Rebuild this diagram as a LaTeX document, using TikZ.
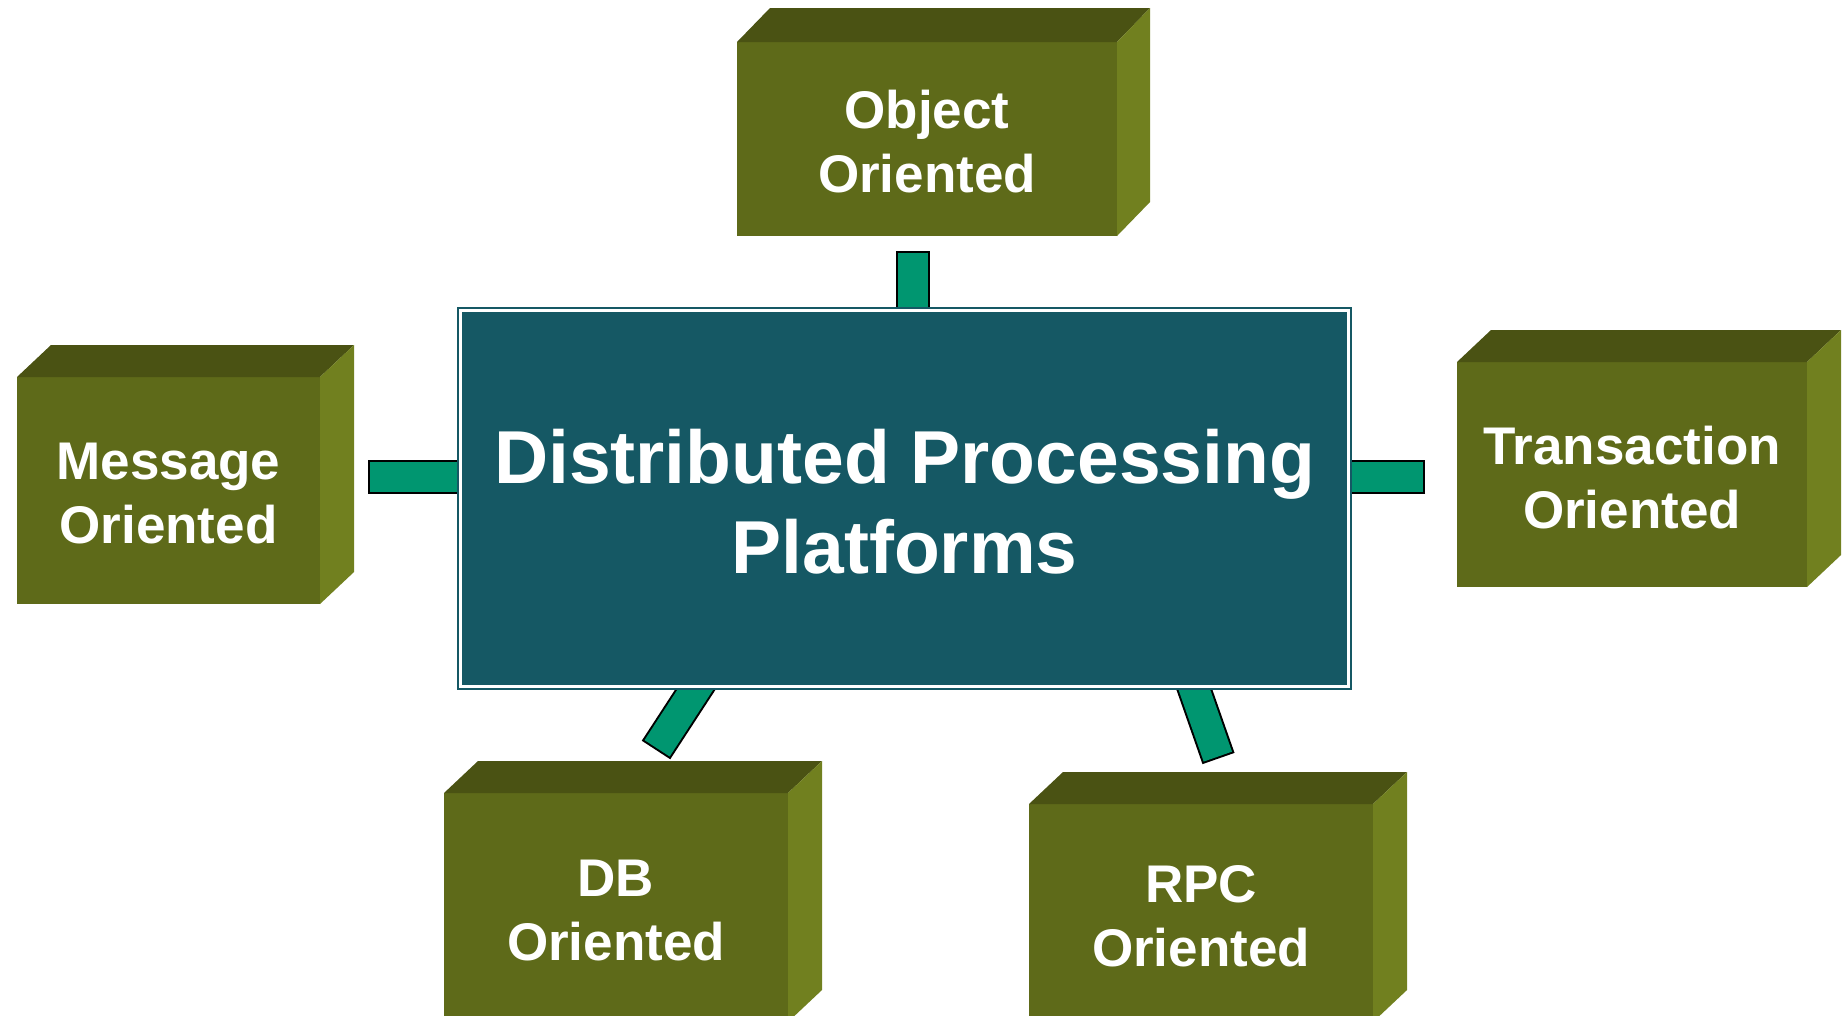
\documentclass[tikz,border=0pt]{standalone}
\usepackage{fontspec}
\setmainfont{Liberation Sans}
\usetikzlibrary{calc,backgrounds}

\definecolor{olivefront}{HTML}{5E6A19}
\definecolor{olivetop}{HTML}{4A5213}
\definecolor{oliveside}{HTML}{71801F}
\definecolor{coreteal}{HTML}{155864}
\definecolor{linkgreen}{HTML}{009670}

% top and side faces of a block whose front face is node #1, depth (#2,#3)
\newcommand\blockfaces[3]{%
  \fill[topface] (#1.north west) -- ++(#2,-#3) -- ($(#1.north east)+(#2,-#3)$) -- (#1.north east) -- cycle;
  \fill[sideface] (#1.north east) -- ++(#2,-#3) -- ($(#1.south east)+(#2,-#3)$) -- (#1.south east) -- cycle;}

% a green bar from a free end #1 into the central box at #2
\newcommand\corelink[2]{%
  \draw[linkedge] (#1) -- (#2);
  \draw[linkfill] (#1) -- (#2);}

\begin{document}
\begin{tikzpicture}[x=1pt,y=-1pt,
  face/.style={fill=olivefront, inner sep=0pt, outer sep=0pt},
  facetext/.style={inner sep=0pt, text=white, align=center,
    font=\bfseries\fontsize{53}{64}\selectfont},
  topface/.style={fill=olivetop},
  sideface/.style={fill=oliveside},
  core/.style={fill=coreteal, inner sep=0pt, outer sep=0pt,
    minimum width=895, minimum height=383},
  coretext/.style={inner sep=0pt, text=white, align=center,
    font=\bfseries\fontsize{75}{90}\selectfont},
  linkedge/.style={draw=black, line width=34pt, shorten >=-20pt},
  linkfill/.style={draw=linkgreen, line width=30pt, shorten <=2pt, shorten >=-20pt},
]
\useasboundingbox (0,0) rectangle (1843,1015);
\clip (0,0) rectangle (1843,1015);

% central box with its thin double frame
\node[core] (core) at (904.5,498.5) {};
\draw[white, line width=2.5pt] ($(core.north west)+(3.5,3.5)$) rectangle ($(core.south east)+(-3.5,-3.5)$);
\node[coretext] (coretitle) at ($(core.center)+(0,3.5)$) {Distributed Processing\\Platforms};

% surrounding blocks
\node[face, minimum width=380, minimum height=194] (obj) at (927,139) {};
\blockfaces{obj}{33}{34}
\node[facetext] (objtext) at ($(obj.center)+(0,3)$) {Object\\Oriented};

\node[face, minimum width=303, minimum height=227] (msg) at (168.5,490.5) {};
\blockfaces{msg}{34}{32}
\node[facetext] (msgtext) at ($(msg.center)+(0,3.5)$) {Message\\Oriented};

\node[face, minimum width=350, minimum height=225] (txn) at (1632,474.5) {};
\blockfaces{txn}{34}{32}
\node[facetext] (txntext) at ($(txn.center)+(0,3.5)$) {Transaction\\Oriented};

\node[face, minimum width=344, minimum height=229] (db) at (616,907.5) {};
\blockfaces{db}{34}{32}
\node[facetext] (dbtext) at ($(db.center)+(0,3.5)$) {DB\\Oriented};

\node[face, minimum width=344, minimum height=218] (rpc) at (1201,913) {};
\blockfaces{rpc}{34}{32}
\node[facetext] (rpctext) at ($(rpc.center)+(0,3.5)$) {RPC\\Oriented};

% free ends of the bars
\coordinate (objtip) at (912.5,251);
\coordinate (msgtip) at (368,476.5);
\coordinate (txntip) at (1425,476.5);
\coordinate (dbtip) at (656,750);
\coordinate (rpctip) at (1218.5,758.5);

% bars run under the central box
\begin{scope}[on background layer]
  \corelink{objtip}{objtip |- core.north}
  \corelink{msgtip}{msgtip -| core.west}
  \corelink{txntip}{txntip -| core.east}
  \corelink{dbtip}{$(core.south west)!0.266!(core.south east)$}
  \corelink{rpctip}{$(core.south west)!0.824!(core.south east)$}
\end{scope}
\end{tikzpicture}
\end{document}
